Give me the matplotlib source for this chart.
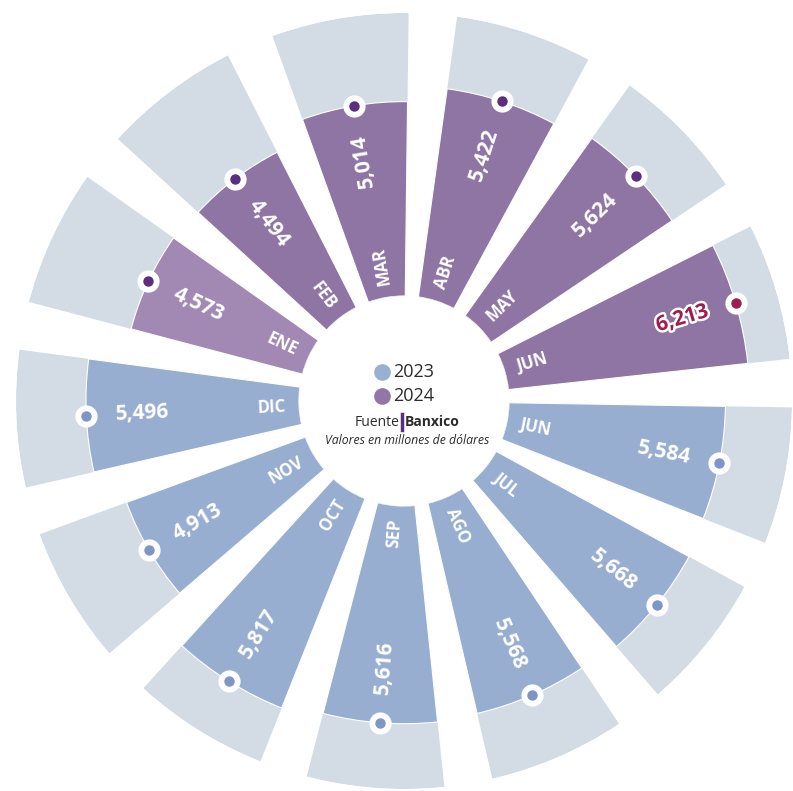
import numpy as np
import matplotlib
matplotlib.use("Agg")
import matplotlib.pyplot as plt
import matplotlib.patheffects as pe
from matplotlib.lines import Line2D

plt.rcParams['font.family'] = ['Open Sans', 'DejaVu Sans']

# ---- data ----
months = ["JUN", "JUL", "AGO", "SEP", "OCT", "NOV", "DIC",
          "ENE", "FEB", "MAR", "ABR", "MAY", "JUN"]
values = [5584, 5668, 5568, 5616, 5817, 4913, 5496,
          4573, 4494, 5014, 5422, 5624, 6213]
years = [2023, 2023, 2023, 2023, 2023, 2023, 2023,
         2024, 2024, 2024, 2024, 2024, 2024]
bg_max = 7300

# ---- colors ----
c_blue = "#98AED0"
c_purple = "#8F75A3"
c_purple_light = "#A289B4"
c_bg = "#D3DCE4"
c_dot_blue = "#7D96C3"
c_dot_purple = "#5B2E82"
c_red = "#9C1F50"

W, H = 793, 791
cx, cy, R = 404, 401, 388
hole_px = 105
px_per_unit = (R - hole_px) / bg_max
hole = hole_px / px_per_unit

fig = plt.figure(figsize=(W / 100, H / 100), dpi=100)
ax = fig.add_axes([(cx - R) / W, (H - cy - R) / H, 2 * R / W, 2 * R / H],
                  projection="polar")
ax.set_rorigin(-hole)
ax.set_ylim(0, bg_max)
ax.axis("off")

n = len(values)
step = 360 / n
theta_deg = np.array([-11.2 - i * step for i in range(n)])
theta = np.radians(theta_deg)
width = np.radians(20.5)

bar_colors = []
for i, y in enumerate(years):
    if y == 2023:
        bar_colors.append(c_blue)
    elif months[i] == "ENE":
        bar_colors.append(c_purple_light)
    else:
        bar_colors.append(c_purple)

# background bars, then value bars
ax.bar(theta, [bg_max] * n, width=width, bottom=0, color=c_bg, linewidth=0)
ax.bar(theta, values, width=width, bottom=0, color=bar_colors,
       edgecolor="white", linewidth=0.8)

# dots
for i in range(n):
    inner = c_dot_blue if years[i] == 2023 else c_dot_purple
    if i == n - 1:
        inner = c_red
    ax.plot(theta[i], values[i], "o", ms=16, mfc="white", mec="none", zorder=5)
    ax.plot(theta[i], values[i], "o", ms=7.5, mfc=inner, mec="none", zorder=6)


def text_rot(a):
    a = (a + 180) % 360 - 180
    if a > 100:
        return a - 180, True
    if a < -90:
        return a + 180, True
    return a, False


lab_off = 13 / px_per_unit
val_off = 29 / px_per_unit
for i in range(n):
    rot, flipped = text_rot(theta_deg[i])
    # month label near inner end
    ax.text(theta[i], lab_off, months[i], rotation=rot, rotation_mode="anchor",
            ha="right" if flipped else "left", va="center",
            color="white", fontsize=12, fontweight="bold", zorder=7)
    # value label near outer end
    s = f"{values[i]:,}"
    kw = dict(color="white")
    if i == n - 1:
        kw = dict(color=c_red,
                  path_effects=[pe.withStroke(linewidth=3.5, foreground="white")])
    ax.text(theta[i], values[i] - val_off, s, rotation=rot, rotation_mode="anchor",
            ha="left" if flipped else "right", va="center",
            fontsize=15, fontweight="bold", zorder=7, **kw)

# ---- center legend ----
def fx(x):
    return x / W


def fy(y):
    return 1 - y / H


for yy, col, lab in [(372, "#9AB0D3", "2023"), (396, "#9177A6", "2024")]:
    fig.add_artist(Line2D([fx(382)], [fy(yy)], marker="o", ms=12, color=col,
                          mec="none", linestyle="none", transform=fig.transFigure))
    fig.text(fx(393), fy(yy), lab, ha="left", va="center", fontsize=13,
             color="#2B2B2B")

fig.text(fx(399), fy(422), "Fuente", ha="right", va="center", fontsize=10,
         color="#2B2B2B")
fig.add_artist(Line2D([fx(402), fx(402)], [fy(414), fy(430)], color="#5B2E82",
                      lw=2.5, transform=fig.transFigure))
fig.text(fx(405), fy(422), "Banxico", ha="left", va="center", fontsize=10,
         fontweight="bold", color="#2B2B2B")
fig.text(fx(407), fy(440), "Valores en millones de dólares", ha="center",
         va="center", fontsize=8.8, style="italic", color="#2B2B2B")

fig.savefig("out.png", dpi=100)
